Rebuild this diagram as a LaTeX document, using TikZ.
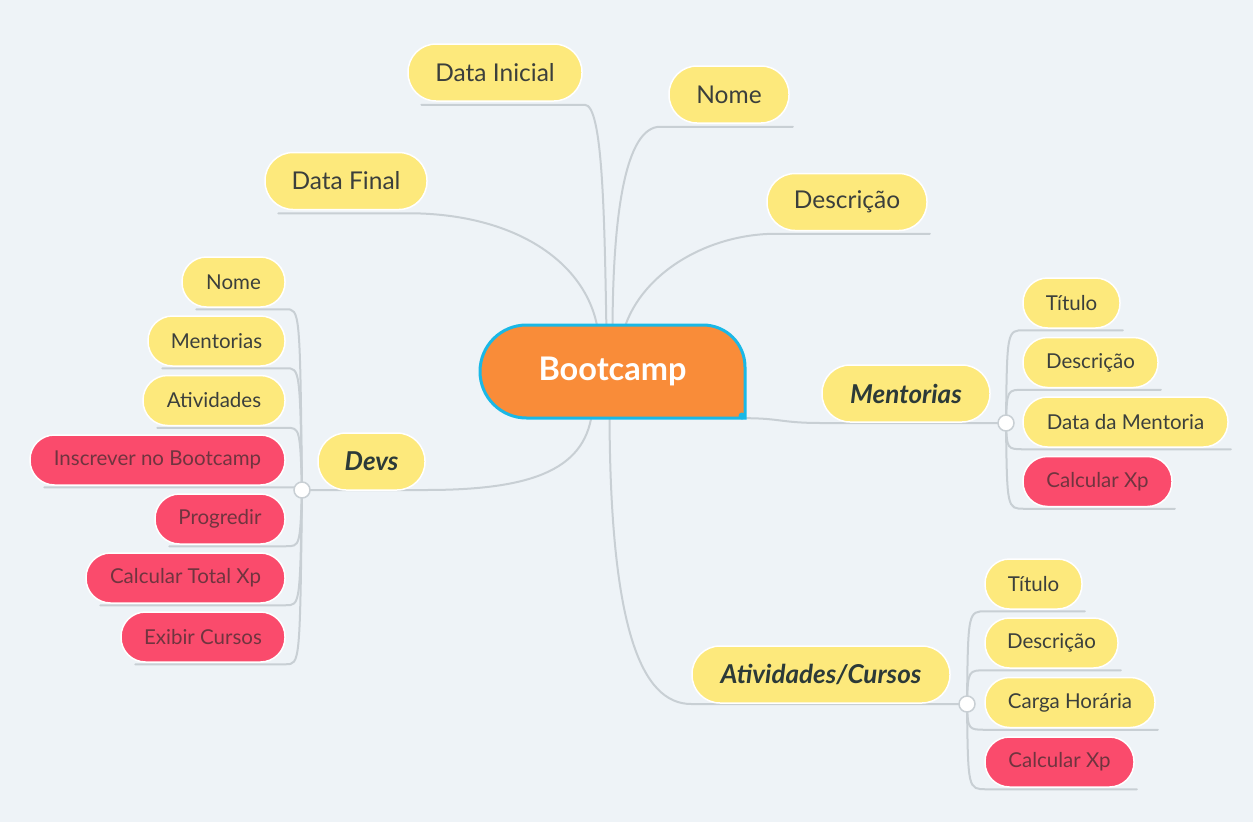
\documentclass[tikz,border=0pt]{standalone}
\usepackage{fontspec}
\setmainfont{Lato}
\usetikzlibrary{calc}
\definecolor{bgc}{HTML}{EEF3F7}
\definecolor{linec}{HTML}{C8CFD4}
\definecolor{yel}{HTML}{FDE97C}
\definecolor{redc}{HTML}{FA4B6C}
\definecolor{txt}{HTML}{3B3F3C}
\definecolor{brtxt}{HTML}{2C3A38}
\definecolor{redtxt}{HTML}{70343F}
\definecolor{orangec}{HTML}{F98C39}
\definecolor{cyanc}{HTML}{1AB8E6}
\pgfdeclarelayer{back}
\pgfdeclarelayer{lines}
\pgfsetlayers{back,lines,main}
\begin{document}
\begin{tikzpicture}[x=1pt,y=-1pt,
  base/.style={draw=white, line width=1.5pt, inner sep=0pt, text=txt, align=center},
  topic/.style={base, fill=yel, minimum height=57pt, rounded corners=28pt, font=\fontsize{24.5}{27}\selectfont},
  branch/.style={base, fill=yel, minimum height=57pt, rounded corners=28pt, font=\fontsize{26}{29}\selectfont\bfseries\itshape, text=brtxt},
  leaf/.style={base, fill=yel, minimum height=50pt, rounded corners=24.5pt, font=\fontsize{20.5}{23}\selectfont},
  act/.style={leaf, fill=redc, text=redtxt},
  conn/.style={draw=linec, line width=2pt, line cap=round},
  joint/.style={circle, draw=linec, fill=white, line width=1.5pt, minimum size=16pt, inner sep=0pt}]
\begin{pgfonlayer}{back}
\fill[bgc] (0,0) rectangle (1253,822);
\end{pgfonlayer}
\useasboundingbox (0,0) rectangle (1253,822);

% central topic shape
\path[fill=orangec, draw=cyanc, line width=3pt]
  (745,418) -- (526.5,418)
  .. controls (500.8,418) and (480,397.2) .. (480,371.5)
  .. controls (480,345.8) and (500.8,325) .. (526.5,325)
  -- (703,325) .. controls (726.2,325) and (745,343.8) .. (745,367)
  -- cycle;
\fill[cyanc] (742,416) circle (3.5pt);
\node[inner sep=0pt, minimum width=265pt, minimum height=93pt, text=white,
      font=\fontsize{32.5}{35}\selectfont\bfseries] (boot) at (612.5,371.5) {Bootcamp};

% top-level topics
\node[topic, minimum width=174pt] (dini) at (495,72.5) {Data Inicial};
\node[topic, minimum width=120pt] (nome) at (729,94.5) {Nome};
\node[topic, minimum width=160pt] (desc) at (847,202) {Descrição};
\node[topic, minimum width=162pt] (dfin) at (346,181) {Data Final};

% branches
\node[branch, minimum width=107pt] (devs) at (371.5,461.5) {Devs};
\node[branch, minimum width=168pt] (ment) at (906,393.5) {Mentorias};
\node[branch, minimum width=258pt] (ativ) at (821,674.5) {Atividades/Cursos};

\node[joint] (cd) at (302,490) {};
\node[joint] (cm) at (1006,423) {};
\node[joint] (ca) at (967,704) {};

% Devs children
\node[leaf, minimum width=103pt] (d1) at (233.5,282) {Nome};
\node[leaf, minimum width=137pt] (d2) at (216.5,341) {Mentorias};
\node[leaf, minimum width=142pt] (d3) at (214,400.5) {Atividades};
\node[act, minimum width=255pt] (d4) at (157.5,460) {Inscrever no Bootcamp};
\node[act, minimum width=130pt] (d5) at (220,519) {Progredir};
\node[act, minimum width=199pt] (d6) at (185.5,578) {Calcular Total Xp};
\node[act, minimum width=164pt] (d7) at (203,637) {Exibir Cursos};

% Mentorias children
\node[leaf, minimum width=97pt] (m1) at (1071.5,303) {Título};
\node[leaf, minimum width=135pt] (m2) at (1090.5,362.5) {Descrição};
\node[leaf, minimum width=205pt] (m3) at (1125.5,422) {Data da Mentoria};
\node[act, minimum width=149pt] (m4) at (1097.5,481.5) {Calcular Xp};

% Atividades children
\node[leaf, minimum width=97pt] (a1) at (1033.5,584) {Título};
\node[leaf, minimum width=133pt] (a2) at (1051.5,643) {Descrição};
\node[leaf, minimum width=170pt] (a3) at (1070,702.5) {Carga Horária};
\node[act, minimum width=149pt] (a4) at (1059.5,762) {Calcular Xp};

\begin{pgfonlayer}{lines}
% top-level connectors
\draw[conn] ($(dfin.south west)+(14,3)$) -- ($(dfin.south east)+(-20,3)$)
  .. controls +(110,0) and +(-8,-70) .. ($(boot.north)+(-14,10)$);
\draw[conn] ($(dini.south west)+(14,3)$) -- ($(dini.south east)+(2,3)$)
  .. controls +(18,0) and +(-2,-120) .. ($(boot.north)+(-6,10)$);
\draw[conn] ($(boot.north)+(0,10)$) .. controls +(0,-120) and +(-35,0) ..
  ($(nome.south west)+(-8,3)$) -- ($(nome.south east)+(3,3)$);
\draw[conn] ($(boot.north)+(10,10)$) .. controls +(15,-60) and +(-70,0) ..
  ($(desc.south west)+(10,2.5)$) -- ($(desc.south east)+(2,2.5)$);
% branch connectors
\draw[conn] ($(boot.south)+(-20,-10)$) .. controls +(-5,60) and +(110,0) ..
  (devs.south east |- cd) -- (cd.center);
\draw[conn] ($(boot.south)+(-3,-10)$) .. controls +(0,220) and +(-50,0) ..
  (ativ.south west |- ca) -- (ca.center);
\draw[conn] (boot.south east) .. controls +(35,0) and +(-40,0) ..
  (ment.south west |- cm) -- (cm.center);
% Devs children
\foreach \n in {d1,d2,d3,d4,d5,d6,d7}{
  \draw[conn] (cd.center) .. controls ($(cd.center |- \n.south)+(-2,1.5)$) ..
    ($(\n.south east)+(0,1.5)$) -- ($(\n.south west)+(15,1.5)$);
}
% Mentorias children
\foreach \n in {m1,m2,m3,m4}{
  \draw[conn] (cm.center) .. controls ($(cm.center |- \n.south)+(1,1.5)$) ..
    ($(\n.south west)+(2,1.5)$) -- ($(\n.south east)+(2,1.5)$);
}
% Atividades children
\foreach \n in {a1,a2,a3,a4}{
  \draw[conn] (ca.center) .. controls ($(ca.center |- \n.south)+(1,1.5)$) ..
    ($(\n.south west)+(2,1.5)$) -- ($(\n.south east)+(2,1.5)$);
}
\end{pgfonlayer}
\end{tikzpicture}
\end{document}
